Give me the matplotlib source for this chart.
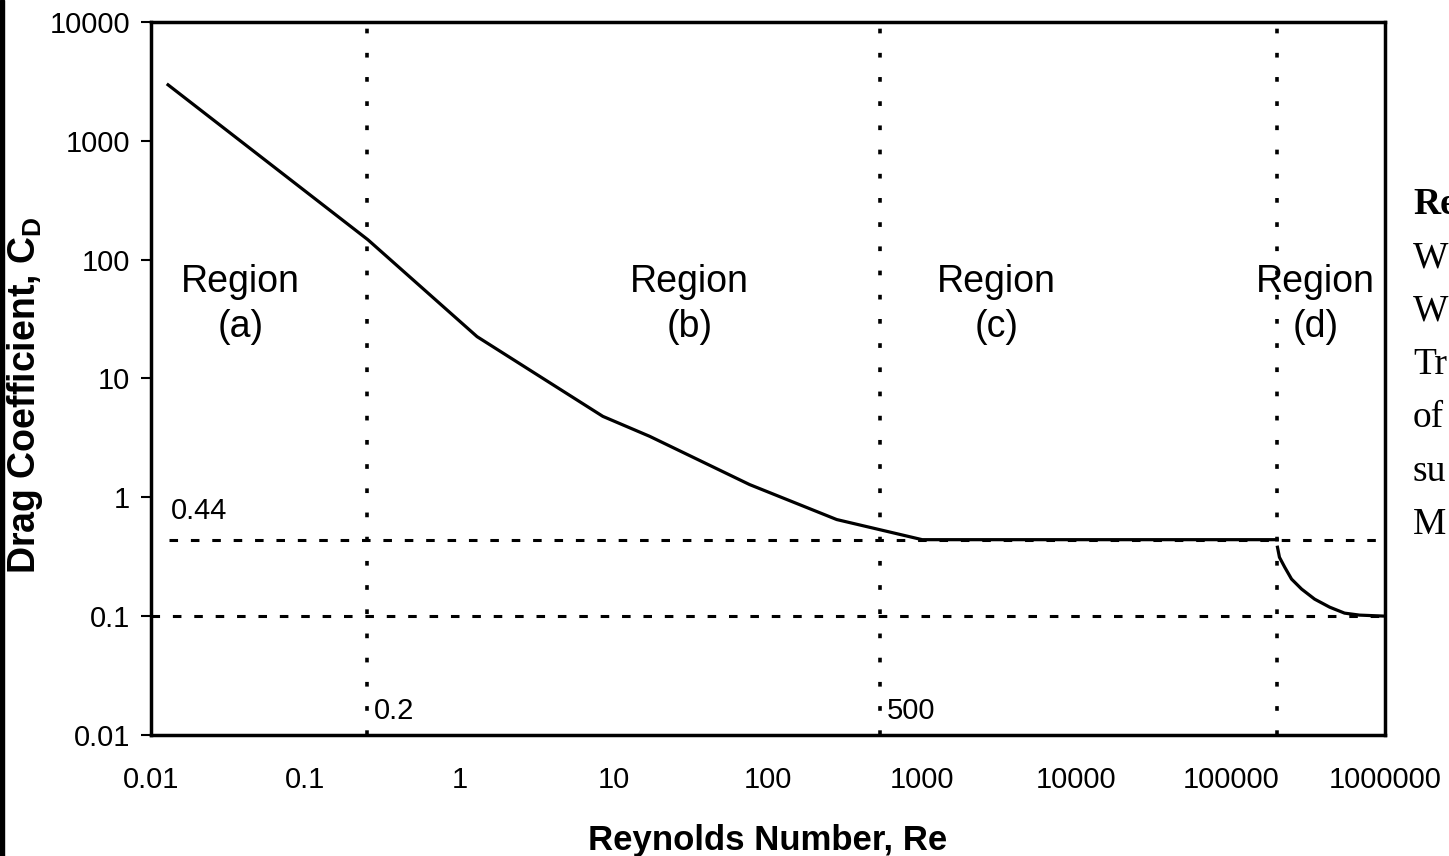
import matplotlib
matplotlib.use("Agg")
import matplotlib.pyplot as plt
from matplotlib.patches import Rectangle

plt.rcParams["font.family"] = ["Liberation Sans", "DejaVu Sans"]

# drag curve
re_main = [0.0129, 0.255, 1.30, 8.5, 17.1, 76, 279, 1000, 2.0e5]
cd_main = [2960, 147, 22.5, 4.8, 3.26, 1.28, 0.65, 0.44, 0.44]
re_turb = [2.01e5, 2.07e5, 2.24e5, 2.48e5, 2.88e5, 3.5e5, 4.38e5, 5.47e5, 6.84e5, 1.0e6]
cd_turb = [0.38, 0.313, 0.258, 0.205, 0.169, 0.139, 0.119, 0.106, 0.102, 0.1]

# region boundaries and reference levels
re_bounds = [0.25, 530, 2.0e5]
bound_labels = ["0.2", "500", None]
cd_levels = [0.44, 0.1]
cd_level_start = [0.013, 0.01]

regions = ["(a)", "(b)", "(c)", "(d)"]
region_x = [0.038, 31, 3040, 3.55e5]
region_y = 42

xticks = [0.01, 0.1, 1, 10, 100, 1000, 10000, 100000, 1000000]
yticks = [0.01, 0.1, 1, 10, 100, 1000, 10000]

side_text = ["Re", "W", "W", "Tr", "of", "su", "M"]

fig = plt.figure(figsize=(14.49, 8.56), dpi=100)
ax = fig.add_axes([0.1042, 0.1414, 0.8516, 0.8329])
ax.set_xscale("log")
ax.set_yscale("log")
ax.set_xlim(0.01, 1e6)
ax.set_ylim(0.01, 10000)

for x in re_bounds:
    ax.axvline(x, color="black", lw=2.6, ls=(0, (1.3, 5.4)))
for y, x0 in zip(cd_levels, cd_level_start):
    ax.plot([x0, 1e6], [y, y], color="black", lw=2.2, ls=(0, (2.8, 4.2)))

ax.plot(re_main, cd_main, color="black", lw=2.3)
ax.plot(re_turb, cd_turb, color="black", lw=2.3)

for x, lab in zip(re_bounds, bound_labels):
    if lab:
        ax.text(x * 1.12, 0.016, lab, fontsize=21, va="center", ha="left")
ax.text(0.0135, 0.58, "0.44", fontsize=21, va="bottom", ha="left")

for x, lab in zip(region_x, regions):
    ax.text(x, region_y, "Region\n" + lab, fontsize=27, ha="center",
            va="center", linespacing=1.3)

ax.set_xticks(xticks)
ax.set_xticklabels([f"{v:g}" if v < 1 else f"{int(v)}" for v in xticks])
ax.set_yticks(yticks)
ax.set_yticklabels([f"{v:g}" if v < 1 else f"{int(v)}" for v in yticks])
ax.minorticks_off()
ax.tick_params(axis="x", length=0, pad=22, labelsize=21)
ax.tick_params(axis="y", length=7, width=1.5, pad=8, labelsize=21)

for s in ax.spines.values():
    s.set_linewidth(2.5)

ax.set_xlabel("Reynolds Number, Re", fontsize=25, fontweight="bold", labelpad=22)
ax.set_ylabel("Drag Coefficient, C$_\\mathregular{D}$", fontsize=27,
              fontweight="bold")
ax.yaxis.set_label_coords(-0.086, 0.477)

for i, t in enumerate(side_text):
    fig.text(1413 / 1449, 1 - (205 + 53.3 * i) / 856, t, fontsize=27,
             family=["Liberation Serif", "DejaVu Serif"],
             fontweight="bold" if i == 0 else "normal", va="center", ha="left")

fig.add_artist(Rectangle((0, 0), 4 / 1449, 1, transform=fig.transFigure,
                         color="black"))

fig.savefig("out.png", dpi=100)
